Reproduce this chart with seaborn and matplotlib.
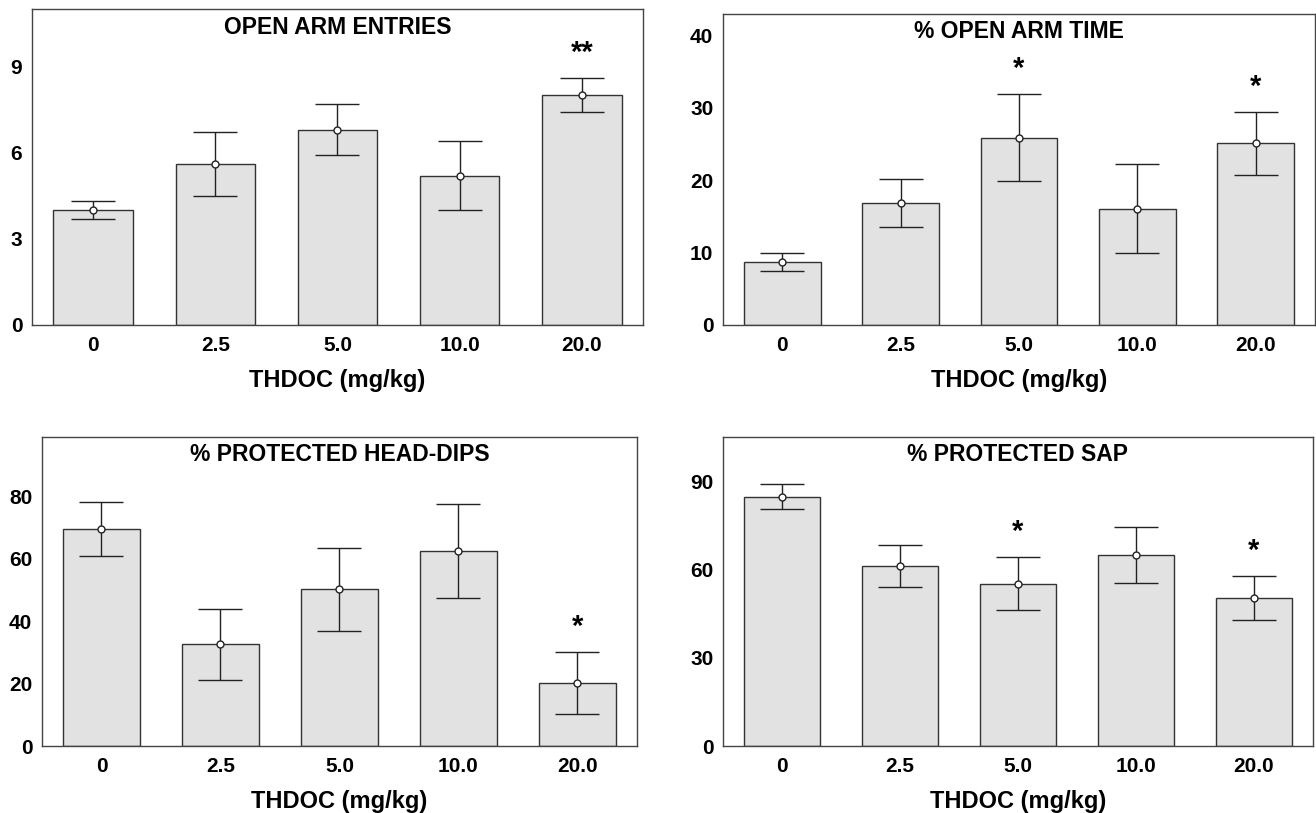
import numpy as np
import pandas as pd
import seaborn as sns
import matplotlib.pyplot as plt

# --- data ---
doses = ["0", "2.5", "5.0", "10.0", "20.0"]

entries_mean = [4.0, 5.6, 6.8, 5.2, 8.0]
entries_sem = [0.3, 1.1, 0.9, 1.2, 0.6]
entries_sig = ["", "", "", "", "**"]

open_time_mean = [8.7, 16.9, 25.9, 16.1, 25.1]
open_time_sem = [1.3, 3.3, 6.0, 6.1, 4.4]
open_time_sig = ["", "", "*", "", "*"]

head_dips_mean = [69.5, 32.6, 50.3, 62.4, 20.2]
head_dips_sem = [8.7, 11.3, 13.3, 15.0, 9.9]
head_dips_sig = ["", "", "", "", "*"]

sap_mean = [84.7, 61.2, 55.2, 64.9, 50.3]
sap_sem = [4.3, 7.1, 9.1, 9.6, 7.4]
sap_sig = ["", "", "*", "", "*"]

panels = [
    ("OPEN ARM ENTRIES", entries_mean, entries_sem, entries_sig, [0, 3, 6, 9], 11),
    ("% OPEN ARM TIME", open_time_mean, open_time_sem, open_time_sig, [0, 10, 20, 30, 40], 43),
    ("% PROTECTED HEAD-DIPS", head_dips_mean, head_dips_sem, head_dips_sig, [0, 20, 40, 60, 80], 99),
    ("% PROTECTED SAP", sap_mean, sap_sem, sap_sig, [0, 30, 60, 90], 105),
]

sns.set_style("white")
plt.rcParams["font.family"] = ["Liberation Sans Narrow", "Liberation Sans", "DejaVu Sans"]
plt.rcParams["font.weight"] = "bold"
plt.rcParams["text.color"] = "black"
plt.rcParams["axes.labelcolor"] = "black"
plt.rcParams["xtick.color"] = "black"
plt.rcParams["ytick.color"] = "black"

fig = plt.figure(figsize=(13.16, 8.13), dpi=100)
# axes boxes [left, bottom, width, height] in figure fraction
boxes = [
    [0.0243, 0.6003, 0.4643, 0.3887],
    [0.5494, 0.6003, 0.4498, 0.3825],
    [0.0319, 0.0824, 0.4521, 0.3800],
    [0.5494, 0.0824, 0.4483, 0.3800],
]

for (title, mean, sem, sig, yticks, ymax), box in zip(panels, boxes):
    ax = fig.add_axes(box)
    df = pd.DataFrame({"dose": doses, "value": mean})
    sns.barplot(data=df, x="dose", y="value", order=doses, color="#e2e2e2",
                saturation=1, width=0.65, edgecolor="#333333", linewidth=1,
                errorbar=None, ax=ax)
    pos = np.arange(len(doses))
    ax.errorbar(pos, mean, yerr=sem, fmt="none", ecolor="#222222",
                elinewidth=1, capsize=16, capthick=1, zorder=3)
    ax.plot(pos, mean, linestyle="none", marker="o", markersize=5,
            markerfacecolor="white", markeredgecolor="#222222",
            markeredgewidth=1, zorder=4)
    for i, s in enumerate(sig):
        if s:
            ax.annotate(s, (pos[i], mean[i] + sem[i]), xytext=(0, 8),
                        textcoords="offset points", ha="center", va="bottom",
                        fontsize=21, fontweight="bold")

    ax.set_xlim(-0.5, 4.5)
    ax.set_ylim(0, ymax)
    ax.set_yticks(yticks)
    ax.set_xlabel("THDOC (mg/kg)", fontsize=17, fontweight="bold", labelpad=10)
    ax.set_ylabel("")
    ax.tick_params(axis="both", length=0, labelsize=15)
    ax.tick_params(axis="x", pad=8)
    ax.tick_params(axis="y", pad=7)
    for lab in ax.get_xticklabels() + ax.get_yticklabels():
        lab.set_fontweight("bold")
    for sp in ax.spines.values():
        sp.set_visible(True)
        sp.set_color("#444444")
        sp.set_linewidth(1)
    ax.text(0.5, 1 - 18 / 312, title, transform=ax.transAxes, ha="center",
            va="center", fontsize=16.5, fontweight="bold")

fig.savefig("out.png", dpi=100, facecolor="white")
